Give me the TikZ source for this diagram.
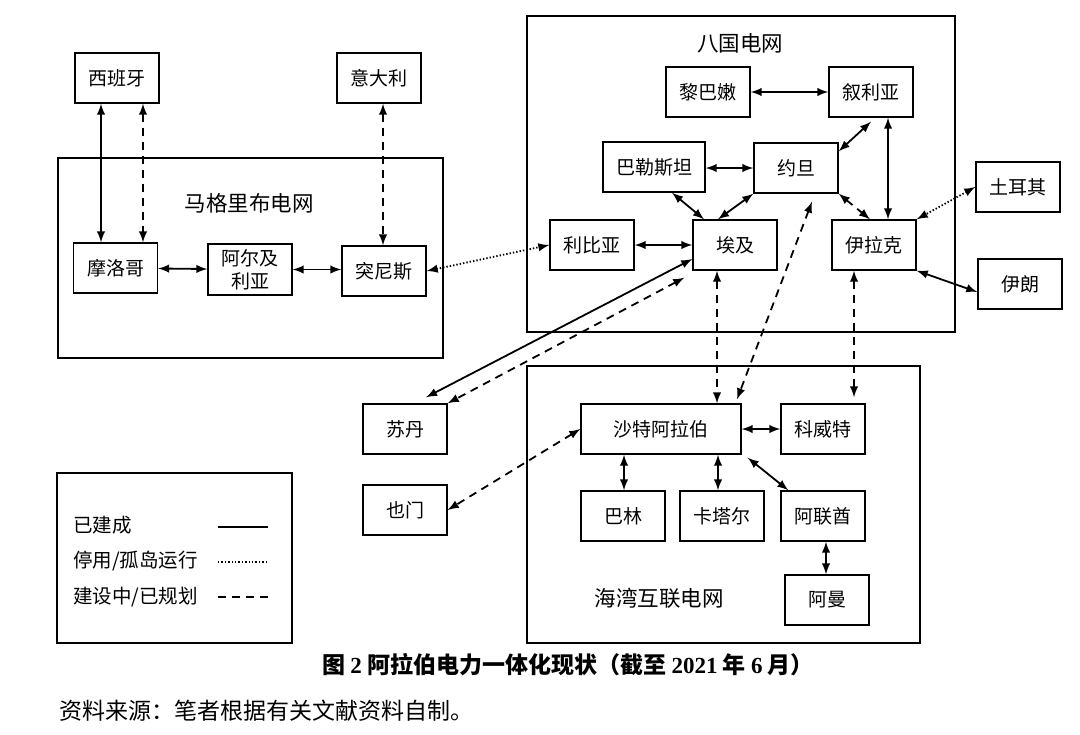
\documentclass[tikz,border=0pt]{standalone}
\usepackage{fontspec}
\setmainfont{Noto Sans CJK SC}
\newfontfamily\timesfont{Liberation Serif}
\usetikzlibrary{arrows,positioning,calc}
\tikzset{
  cty/.style={draw, line width=0.7pt, minimum width=42pt, minimum height=25pt, inner sep=1pt,
    font=\fontsize{9.5}{11.5}\selectfont, align=center},
  grid/.style={draw, line width=1.1pt},
  gridname/.style={font=\fontsize{10.75}{12}\selectfont},
  built/.style={<->, >=latex, line width=0.9pt},
  idle/.style={<->, >=latex, line width=0.9pt, dash pattern=on 0.7pt off 1pt},
  plan/.style={<->, >=latex, line width=0.9pt, dash pattern=on 4pt off 3pt},
}

\begin{document}
\begin{tikzpicture}[x=0.5pt, y=-0.5pt]
    \useasboundingbox (0,0) rectangle (1080,734);

    \draw[grid] (58,158) rectangle (443,358);
    \draw[grid] (527,16) rectangle (955,332);
    \draw[grid] (527,366) rectangle (920,643);
    \node[gridname] (maghrebname) at (249,203) {马格里布电网};
    \node[gridname] (eightname) at (740,43) {八国电网};
    \node[gridname] (gulfname) at (659,598) {海湾互联电网};

    \node[cty] (spain) at (117,78) {西班牙};
    \node[cty] (italy) at (379,78) {意大利};
    \node[cty] (morocco) at (115.5,268) {摩洛哥};
    \node[cty, minimum height=25.5pt] (algeria) at (250,269.5) {阿尔及\\利亚};
    \node[cty] (tunisia) at (384,271) {突尼斯};

    \node[cty] (lebanon) at (708,92) {黎巴嫩};
    \node[cty] (syria) at (871,92) {叙利亚};
    \node[cty, minimum width=51pt] (palestine) at (654,167) {巴勒斯坦};
    \node[cty] (jordan) at (796,168) {约旦};
    \node[cty] (libya) at (592,245) {利比亚};
    \node[cty] (egypt) at (735,245) {埃及};
    \node[cty] (iraq) at (874,245) {伊拉克};
    \node[cty] (turkey) at (1018,187) {土耳其};
    \node[cty] (iran) at (1020,284) {伊朗};

    \node[cty] (sudan) at (405,429) {苏丹};
    \node[cty] (yemen) at (405,510) {也门};
    \node[cty, minimum width=80pt] (saudi) at (661,429) {沙特阿拉伯};
    \node[cty] (kuwait) at (823,429) {科威特};
    \node[cty] (bahrain) at (623,516) {巴林};
    \node[cty] (qatar) at (722,516) {卡塔尔};
    \node[cty] (uae) at (823,516) {阿联酋};
    \node[cty] (oman) at (827,600) {阿曼};

    \draw[built] (spain.south -| 101,0) -- (morocco.north -| 101,0);
    \draw[plan] (spain.south -| 143,0) -- (morocco.north -| 143,0);
    \draw[plan] (italy.south -| 383,0) -- (tunisia.north -| 383,0);
    \draw[built] (morocco) -- (algeria);
    \draw[built] (algeria.east) -- (tunisia.west |- algeria.east);
    \draw[idle] (tunisia.east) -- (libya.west);

    \draw[built] (lebanon) -- (syria);
    \draw[built] (palestine.east |- jordan.west) -- (jordan.west);
    \draw[built] ([yshift=-4.5pt]jordan.north east) -- ([yshift=-2pt]syria.south);
    \draw[built] (syria.south -| 888,0) -- (iraq.north -| 888,0);
    \draw[built] (palestine.south -| 672,0) -- (egypt.north -| 704,0);
    \draw[built] (jordan.south west) -- (egypt.north -| 718,0);
    \draw[plan] (jordan.south east) -- (iraq.north -| 870,0);
    \draw[idle] (turkey.west) -- (iraq.north east);
    \draw[built] (iraq.south east) -- ([yshift=-4pt]iran.west);
    \draw[built] (libya) -- (egypt);

    \draw[built] ([yshift=-7pt]egypt.west) -- ([yshift=3pt]sudan.north -| 426,0);
    \draw[plan] ([xshift=-4pt,yshift=-3.5pt]egypt.south west) -- (sudan.north east);
    \draw[plan] (egypt.south -| 717,0) -- (saudi.north -| 717,0);
    \draw[plan] ([yshift=-4pt]jordan.south -| 812,0) -- ([yshift=2pt]saudi.north -| 737,0);
    \draw[plan] (iraq.south -| 854,0) -- ([yshift=3pt]kuwait.north -| 854,0);
    \draw[built] (saudi) -- (kuwait);
    \draw[plan] (saudi.west) -- (yemen.east);
    \draw[built] (saudi.south -| 624,0) -- (bahrain.north -| 624,0);
    \draw[built] (saudi.south -| 718,0) -- (qatar.north -| 718,0);
    \draw[built] ([xshift=3pt,yshift=-1.5pt]saudi.south east) -- ([xshift=4pt]uae.north west);
    \draw[built] (uae.south -| 826,0) -- (oman.north -| 826,0);

    \draw[line width=0.8pt] (57,473) rectangle (292,643);
    \node[anchor=west, font=\fontsize{9.75}{11}\selectfont] (key1) at (66,525) {已建成};
    \node[anchor=west, font=\fontsize{9.75}{11}\selectfont] (key2) at (66,561) {停用/孤岛运行};
    \node[anchor=west, font=\fontsize{9.75}{11}\selectfont] (key3) at (66,597) {建设中/已规划};
    \draw[line width=0.9pt] (218,527) -- (268,527);
    \draw[line width=0.9pt, dash pattern=on 0.7pt off 1pt] (218,562) -- (268,562);
    \draw[line width=0.9pt, dash pattern=on 4pt off 3pt] (218,597) -- (268,597);

    \node[font=\bfseries\fontsize{11.5}{13}\selectfont] (caption) at (568,665)
      {图 {\timesfont 2} 阿拉伯电力一体化现状（截至 {\timesfont 2021} 年 {\timesfont 6} 月）};
    \node[anchor=west, font=\fontsize{11.5}{13}\selectfont] (source) at (52,711)
      {资料来源：笔者根据有关文献资料自制。};
\end{tikzpicture}
\end{document}
